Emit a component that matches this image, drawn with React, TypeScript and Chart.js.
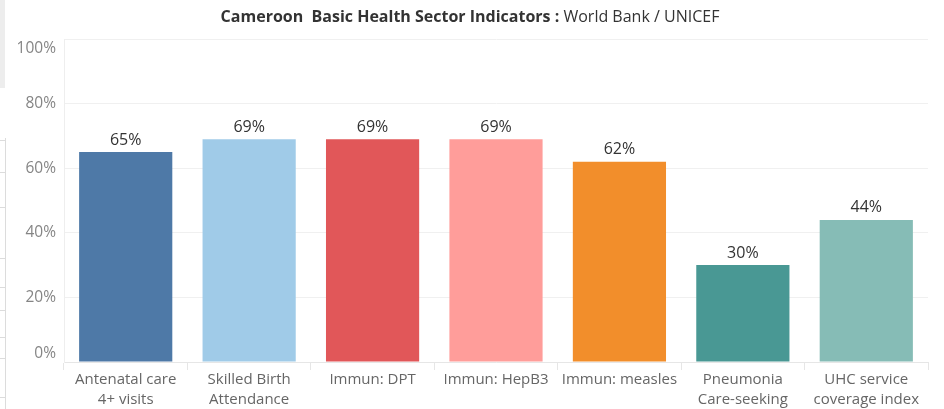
import React, { useEffect, useRef } from "react";
import { Chart, registerables } from "chart.js";

Chart.register(...registerables);

const categories: string[][] = [
  ["Antenatal care", "4+ visits"],
  ["Skilled Birth", "Attendance"],
  ["Immun: DPT"],
  ["Immun: HepB3"],
  ["Immun: measles"],
  ["Pneumonia", "Care-seeking"],
  ["UHC service", "coverage index"],
];
const values: number[] = [65, 69, 69, 69, 62, 30, 44];
const colors: string[] = ["#4e79a7", "#a0cbe8", "#e15759", "#ff9d9a", "#f28e2b", "#499894", "#86bcb6"];
const yTicks: number[] = [0, 20, 40, 60, 80, 100];
const titleBold = "Cameroon  Basic Health Sector Indicators : ";
const titleNormal = "World Bank / UNICEF";

const FONT = "'Open Sans', 'Noto Sans', sans-serif";

const decorPlugin = {
  id: "decor",
  beforeDraw(chart: any) {
    const ctx = chart.ctx;
    ctx.save();
    ctx.fillStyle = "#ededed";
    ctx.fillRect(0, 0, 5, 88);
    ctx.strokeStyle = "#dcdcdc";
    ctx.lineWidth = 1;
    ctx.beginPath();
    ctx.moveTo(5.5, 138);
    ctx.lineTo(5.5, 409);
    [140, 172, 207, 258, 287, 310, 337, 358, 397].forEach((y) => {
      ctx.moveTo(0, y + 0.5);
      ctx.lineTo(5, y + 0.5);
    });
    ctx.stroke();
    ctx.restore();
  },
  afterDraw(chart: any) {
    const ctx = chart.ctx;
    const area = chart.chartArea;
    ctx.save();
    // title
    ctx.textBaseline = "middle";
    ctx.fillStyle = "#333333";
    ctx.font = `bold 16px ${FONT}`;
    const wb = ctx.measureText(titleBold).width;
    ctx.font = `16px ${FONT}`;
    const wn = ctx.measureText(titleNormal).width;
    const start = 470 - (wb + wn) / 2;
    ctx.font = `bold 16px ${FONT}`;
    ctx.textAlign = "left";
    ctx.fillText(titleBold, start, 17);
    ctx.font = `16px ${FONT}`;
    ctx.fillText(titleNormal, start + wb, 17);
    // y tick labels (kept inside the axis range, as in the reference)
    const ys = chart.scales.y;
    ctx.font = `15.5px ${FONT}`;
    ctx.fillStyle = "#858585";
    ctx.textAlign = "right";
    yTicks.forEach((v) => {
      const p = ys.getPixelForValue(v);
      const y = Math.min(Math.max(p, area.top + 10), area.bottom - 8);
      ctx.fillText(`${v}%`, area.left - 8, y);
    });
    // data labels
    const meta = chart.getDatasetMeta(0);
    ctx.font = `16px ${FONT}`;
    ctx.fillStyle = "#333333";
    ctx.textAlign = "center";
    meta.data.forEach((bar: any, i: number) => {
      ctx.fillText(`${values[i]}%`, bar.x, bar.y - 12);
    });
    ctx.restore();
  },
};

export default function App() {
  const ref = useRef<HTMLCanvasElement | null>(null);
  useEffect(() => {
    document.body.style.margin = "0";
    const chart = new Chart(ref.current!, {
      type: "bar",
      data: {
        labels: categories,
        datasets: [
          {
            data: values,
            backgroundColor: colors,
            barPercentage: 0.755,
            categoryPercentage: 1,
          },
        ],
      },
      options: {
        responsive: false,
        animation: false,
        layout: { padding: { top: 39, right: 16, left: 0, bottom: 0 } },
        plugins: { legend: { display: false }, tooltip: { enabled: false }, title: { display: false } },
        scales: {
          x: {
            grid: {
              offset: true,
              drawOnChartArea: false,
              drawTicks: true,
              tickLength: 8,
              color: "#e6e6e6",
            },
            border: { display: true, color: "#e6e6e6" },
            ticks: {
              color: "#666666",
              font: { family: FONT, size: 15, lineHeight: 1.3 },
              padding: 0,
              maxRotation: 0,
              autoSkip: false,
            },
            afterFit(scale: any) {
              scale.height = 47;
            },
          },
          y: {
            min: 0,
            max: 100,
            afterBuildTicks(scale: any) {
              scale.ticks = yTicks.map((v) => ({ value: v }));
            },
            grid: { color: "#f0f0f0", drawTicks: false },
            border: { display: true, color: "#eeeeee" },
            ticks: { display: false },
            afterFit(scale: any) {
              scale.width = 64;
            },
          },
        },
      },
      plugins: [decorPlugin],
    });
    return () => chart.destroy();
  }, []);
  return <canvas ref={ref} width={944} height={409} style={{ display: "block" }} />;
}
